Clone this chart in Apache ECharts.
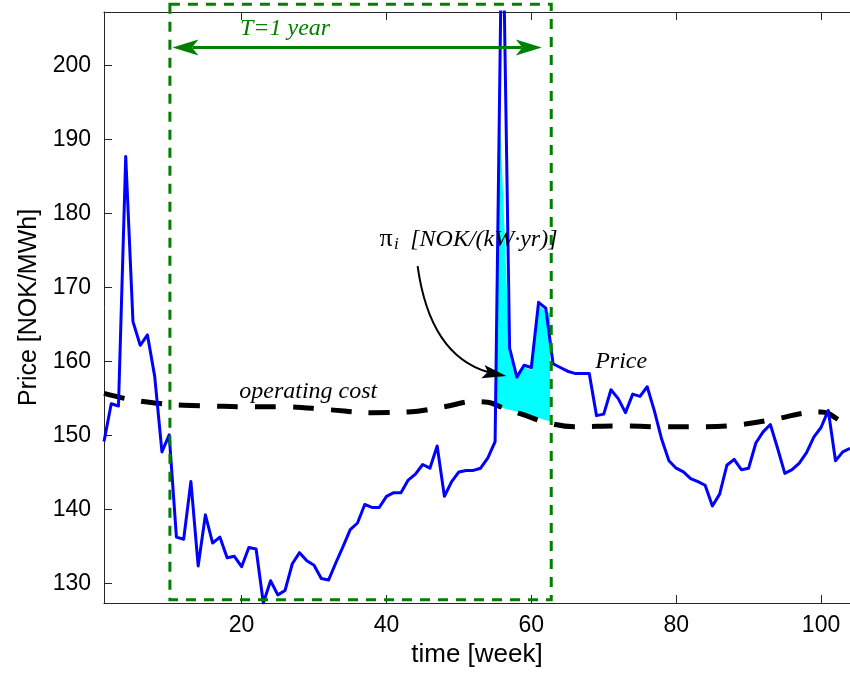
<!DOCTYPE html>
<html>
<head>
<meta charset="utf-8">
<script src="https://cdn.jsdelivr.net/npm/echarts@6/dist/echarts.min.js"></script>
<style>
  html, body { margin: 0; padding: 0; background: #fff; }
  #main { width: 850px; height: 675px; }
</style>
</head>
<body>
<div id="main"></div>
<script>
// weekly price, week 1 .. 104
const price = [
  149.2, 154.3, 154.0, 187.7, 165.4, 162.2, 163.6, 158.0, 147.8, 150.1,
  136.3, 136.0, 143.8, 132.4, 139.3, 135.5, 136.3, 133.5, 133.7, 132.3,
  134.9, 134.7, 127.4, 130.4, 128.5, 129.1, 132.7, 134.2, 133.1, 132.5,
  130.7, 130.5, 132.8, 135.0, 137.3, 138.2, 140.7, 140.3, 140.3, 141.8,
  142.3, 142.3, 144.0, 144.8, 146.1, 145.6, 148.6, 141.8, 143.8, 145.1,
  145.3, 145.3, 145.6, 147.0, 149.2, 225.0, 161.8, 157.9, 159.5, 159.2,
  168.0, 167.2, 159.7, 159.2, 158.7, 158.4, 158.4, 158.4, 152.7, 152.9,
  156.2, 155.0, 153.1, 155.6, 155.3, 156.6, 153.3, 149.5, 146.6, 145.6,
  145.1, 144.2, 143.8, 143.3, 140.5, 142.1, 146.0, 146.8, 145.4, 145.6,
  149.0, 150.5, 151.5, 148.3, 144.9, 145.4, 146.3, 147.7, 149.8, 151.1,
  153.4, 146.6, 147.8, 148.3
]

// operating cost (smooth dashed curve)
const costWeeks = [1, 4, 8, 12, 16, 20, 26, 32, 38, 43, 48, 52, 54, 56, 59, 62, 66, 72, 78, 84, 89, 94, 98, 100, 101, 102, 103, 104]
const costValues = [155.7, 155.0, 154.4, 154.1, 154.0, 153.9, 153.9, 153.5, 153.1, 153.2, 153.9, 154.6, 154.5, 153.8, 152.8, 151.8, 151.2, 151.3, 151.2, 151.2, 151.5, 152.3, 153.1, 153.2, 153.0, 152.4, 151.8, 151.2]

// cyan area (pi_i): upper edge, then lower edge back along the cost
const fillTopWeeks = [55, 55.7, 57, 58, 59, 60, 61, 62, 62.6]
const fillTopValues = [154.0, 191.9, 161.5, 157.6, 159.2, 158.9, 167.6, 166.8, 166.5]
const fillBottomWeeks = [62.6, 59, 55]
const fillBottomValues = [151.9, 153.0, 154.0]

const xTicks = [20, 40, 60, 80, 100]
const yTicks = [130, 140, 150, 160, 170, 180, 190, 200]

// annotation anchors, in data units (week, NOK/MWh)
const boxWeeks = [10.1, 62.75]
const boxValues = [208.25, 127.85]
const spanArrowWeeks = [10.45, 61.45]
const spanArrowValue = 202.4
const notes = [
  { text: 'T=1 year', week: 26.0, value: 204.9, color: '#008000' },
  { text: 'operating cost', week: 29.2, value: 155.9, color: '#000' },
  { text: 'Price', week: 72.4, value: 159.95, color: '#000' },
  { text: '[NOK/(kW·yr)]', week: 53.45, value: 176.4, color: '#000' }
]
const piPos = [39.95, 176.55]
const piSubPos = [41.35, 175.8]
// curved arrow: start, control, end, and the head (tip, back corners, notch)
const curveWeeks = [44.3, 46.0, 54.0]
const curveValues = [172.9, 160.9, 158.6]
const headWeeks = [56.55, 53.55, 54.0, 53.1]
const headValues = [158.05, 159.55, 158.6, 157.75]

const chart = echarts.init(document.getElementById('main'))

const axisColor = '#262626'
const sans = '"Liberation Sans", Arial, sans-serif'
const serif = '"Liberation Serif", "Times New Roman", serif'

function renderFill (params, api) {
  const pts = []
  fillTopWeeks.forEach((w, i) => pts.push(api.coord([w, fillTopValues[i]])))
  fillBottomWeeks.forEach((w, i) => pts.push(api.coord([w, fillBottomValues[i]])))
  return {
    type: 'polygon',
    shape: { points: pts },
    style: { fill: '#00ffff', stroke: null }
  }
}

function arrowHead (tip, dir, len, half, color) {
  // dir = +1 points right, -1 points left
  return {
    type: 'polygon',
    shape: { points: [tip, [tip[0] - dir * len, tip[1] - half], [tip[0] - dir * len * 0.75, tip[1]], [tip[0] - dir * len, tip[1] + half]] },
    style: { fill: color }
  }
}

function renderNotes (params, api) {
  const tl = api.coord([boxWeeks[0], boxValues[0]])
  const br = api.coord([boxWeeks[1], boxValues[1]])
  const a1 = api.coord([spanArrowWeeks[0], spanArrowValue])
  const a2 = api.coord([spanArrowWeeks[1], spanArrowValue])
  const green = '#008000'
  const children = [
    {
      type: 'rect',
      shape: { x: tl[0], y: tl[1], width: br[0] - tl[0], height: br[1] - tl[1] },
      style: { fill: null, stroke: green, lineWidth: 3, lineDash: [10, 8] }
    },
    {
      type: 'line',
      shape: { x1: a1[0] + 20, y1: a1[1], x2: a2[0] - 20, y2: a2[1] },
      style: { stroke: green, lineWidth: 3 }
    },
    arrowHead(a1, -1, 26, 8, green),
    arrowHead(a2, 1, 26, 8, green)
  ]
  notes.forEach(n => {
    const p = api.coord([n.week, n.value])
    children.push({
      type: 'text', x: p[0], y: p[1],
      style: { text: n.text, fill: n.color, font: 'italic 24px ' + serif, align: 'center', verticalAlign: 'middle' }
    })
  })
  const pp = api.coord(piPos)
  children.push({
    type: 'text', x: pp[0], y: pp[1],
    style: { text: 'π', fill: '#000', font: '26px ' + serif, align: 'center', verticalAlign: 'middle' }
  })
  const ps = api.coord(piSubPos)
  children.push({
    type: 'text', x: ps[0], y: ps[1],
    style: { text: 'i', fill: '#000', font: 'italic 17px ' + serif, align: 'center', verticalAlign: 'middle' }
  })
  const c0 = api.coord([curveWeeks[0], curveValues[0]])
  const c1 = api.coord([curveWeeks[1], curveValues[1]])
  const c2 = api.coord([curveWeeks[2], curveValues[2]])
  children.push({
    type: 'bezierCurve',
    shape: { x1: c0[0], y1: c0[1], cpx1: c1[0], cpy1: c1[1], x2: c2[0], y2: c2[1] },
    style: { stroke: '#000', lineWidth: 2, fill: null }
  })
  children.push({
    type: 'polygon',
    shape: { points: headWeeks.map((w, i) => api.coord([w, headValues[i]])) },
    style: { fill: '#000' }
  })
  return { type: 'group', children }
}

const option = {
  animation: false,
  backgroundColor: '#fff',
  grid: { left: 104, right: -4, top: 12, bottom: 72, containLabel: false },
  xAxis: [
    {
      type: 'value', min: 1, max: 104, position: 'bottom',
      name: 'time [week]', nameLocation: 'middle', nameGap: 38,
      nameTextStyle: { fontSize: 26, fontFamily: sans, color: '#000' },
      axisLine: { show: true, onZero: false, lineStyle: { color: axisColor, width: 1 } },
      axisTick: { show: true, inside: true, length: 8, customValues: xTicks, lineStyle: { color: axisColor } },
      axisLabel: { show: true, customValues: xTicks, fontSize: 23, fontFamily: sans, color: '#000', margin: 11 },
      splitLine: { show: false }
    },
    {
      type: 'value', min: 1, max: 104, position: 'top',
      axisLine: { show: true, onZero: false, lineStyle: { color: axisColor, width: 1 } },
      axisTick: { show: true, inside: true, length: 8, customValues: xTicks, lineStyle: { color: axisColor } },
      axisLabel: { show: false },
      splitLine: { show: false }
    }
  ],
  yAxis: [
    {
      type: 'value', min: 127.4, max: 207.2,
      name: 'Price [NOK/MWh]', nameLocation: 'middle', nameGap: 61, nameRotate: 90,
      nameTextStyle: { fontSize: 25, fontFamily: sans, color: '#000' },
      axisLine: { show: true, onZero: false, lineStyle: { color: axisColor, width: 1 } },
      axisTick: { show: true, inside: true, length: 8, customValues: yTicks, lineStyle: { color: axisColor } },
      axisLabel: { show: true, customValues: yTicks, fontSize: 23, fontFamily: sans, color: '#000', margin: 13 },
      splitLine: { show: false }
    }
  ],
  series: [
    {
      type: 'custom', name: 'pi', xAxisIndex: 0, yAxisIndex: 0, z: 1,
      renderItem: renderFill, data: [[fillTopWeeks[0], fillTopValues[0]]], silent: true
    },
    {
      type: 'line', name: 'operating cost', z: 3,
      data: costWeeks.map((w, i) => [w, costValues[i]]),
      smooth: 0.4, showSymbol: false,
      lineStyle: { color: '#000', width: 5, type: [21, 17], cap: 'butt' }
    },
    {
      type: 'line', name: 'Price', z: 4,
      data: price.map((v, i) => [i + 1, v]),
      showSymbol: false, clip: true,
      lineStyle: { color: '#0000ff', width: 3, join: 'round' }
    },
    {
      type: 'custom', name: 'notes', z: 6, clip: false, silent: true,
      renderItem: renderNotes, data: [[boxWeeks[0], boxValues[1]]]
    }
  ]
}

chart.setOption(option)
</script>
</body>
</html>
